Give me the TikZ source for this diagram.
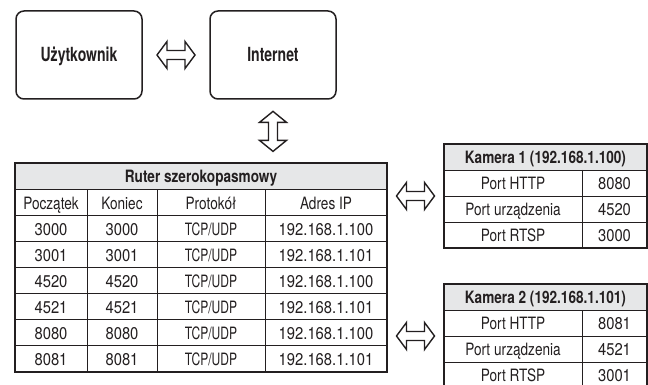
\documentclass[tikz,border=0pt]{standalone}
\usepackage{fontspec}
\setmainfont{TeX Gyre Heros}
\newfontfamily\tabfont[FakeStretch=0.8]{TeX Gyre Heros}
\newfontfamily\capfont[FakeStretch=0.71]{TeX Gyre Heros}
\newfontfamily\numfont[FakeStretch=0.87]{TeX Gyre Heros}
\newfontfamily\boxfont[FakeStretch=0.72]{TeX Gyre Heros}
\usetikzlibrary{calc}
\definecolor{ink}{HTML}{231F20}
\definecolor{hdr}{HTML}{E6E7E8}
\tikzset{
  box/.style={draw=ink, line width=1.5pt, rounded corners=8pt, minimum width=126pt,
    minimum height=88pt, inner sep=0pt, text=ink, text height=14pt, text depth=0pt,
    font=\boxfont\bfseries\fontsize{19.5}{22}\selectfont},
  tblarea/.style={inner sep=0pt, outer sep=0pt},
  outer/.style={draw=ink, line width=1.5pt},
  gridline/.style={draw=ink, line width=0.8pt},
  cell/.style={inner sep=0pt, text=ink, text height=12.2pt, text depth=0pt, anchor=center, yshift=-0.8pt},
  txt/.style={cell, font=\tabfont\fontsize{17}{19}\selectfont},
  num/.style={cell, font=\numfont\fontsize{17}{19}\selectfont},
  caps/.style={cell, font=\capfont\fontsize{17}{19}\selectfont},
  head/.style={cell, font=\tabfont\bfseries\fontsize{17}{19}\selectfont},
  harrow/.style={draw=ink, line width=1.4pt, line join=miter, fill=white},
  harr/.pic={\draw[harrow] (-19,0) -- (-9,-13.5) -- (-9,-4.5) -- (9,-4.5) -- (9,-13.5) -- (19,0)
     -- (9,13.5) -- (9,4.5) -- (-9,4.5) -- (-9,13.5) -- cycle;},
  varr/.pic={\draw[harrow] (0,-20) -- (13.5,-9) -- (4.5,-9) -- (4.5,9) -- (13.5,9) -- (0,20)
     -- (-13.5,9) -- (-4.5,9) -- (-4.5,-9) -- (-13.5,-9) -- cycle;}
}
\begin{document}
\begin{tikzpicture}[x=1pt,y=-1pt]
\useasboundingbox (0,0) rectangle (648,385);
\clip (0,0) rectangle (648,385);
\fill[white] (0,0) rectangle (648,385);

% top boxes
\node[box] (user) at (79,55) {Użytkownik};
\node[box] (inet) at (273,55) {Internet};

% router table
\node[tblarea, minimum width=372pt, minimum height=209pt] (router) at (201,267.5) {};
\fill[hdr] (router.north west) rectangle ($(router.north east)+(0,26.125)$);
\foreach \k in {1,...,7}
  \draw[gridline] ($(router.north west)+(0,26.125*\k)$) -- ($(router.north east)+(0,26.125*\k)$);
\foreach \xx in {87,157,265}
  \draw[gridline] (\xx,189.125) -- (\xx,372);
\draw[outer] (router.north west) rectangle (router.south east);
\node[head] (rh) at (201,176.06) {Ruter szerokopasmowy};
\node[txt] (rc1) at (51,202.19) {Początek};
\node[txt] (rc2) at (122,202.19) {Koniec};
\node[txt] (rc3) at (211,202.19) {Protokół};
\node[txt] (rc4) at (326,202.19) {Adres IP};
\foreach \s/\e/\ip [count=\i from 2] in {3000/3000/100,3001/3001/101,4520/4520/100,4521/4521/101,8080/8080/100,8081/8081/101} {
  \node[num] (r\i a) at (51,{163+26.125*(\i+0.5)}) {\s};
  \node[num] (r\i b) at (122,{163+26.125*(\i+0.5)}) {\e};
  \node[caps] (r\i c) at (211,{163+26.125*(\i+0.5)}) {TCP/UDP};
  \node[num] (r\i d) at (326,{163+26.125*(\i+0.5)}) {192.168.1.\ip};
}

% camera 1
\node[tblarea, minimum width=203pt, minimum height=104pt] (cam1) at (545.5,196) {};
\fill[hdr] (cam1.north west) rectangle ($(cam1.north east)+(0,26)$);
\foreach \k in {1,2,3}
  \draw[gridline] ($(cam1.north west)+(0,26*\k)$) -- ($(cam1.north east)+(0,26*\k)$);
\draw[gridline] (582,170) -- (582,248);
\draw[outer] (cam1.north west) rectangle (cam1.south east);
\node[head] (c1h) at (545.5,157) {Kamera 1 (192.168.1.100)};
\node[txt] (c1a) at (513,183) {Port HTTP};
\node[num] (c1b) at (614.5,183) {8080};
\node[txt] (c1c) at (513,209) {Port urządzenia};
\node[num] (c1d) at (614.5,209) {4520};
\node[txt] (c1e) at (513,235) {Port RTSP};
\node[num] (c1f) at (614.5,235) {3000};

% camera 2
\node[tblarea, minimum width=203pt, minimum height=104pt] (cam2) at (545.5,336) {};
\fill[hdr] (cam2.north west) rectangle ($(cam2.north east)+(0,26)$);
\foreach \k in {1,2,3}
  \draw[gridline] ($(cam2.north west)+(0,26*\k)$) -- ($(cam2.north east)+(0,26*\k)$);
\draw[gridline] (582,310) -- (582,388);
\draw[outer] (cam2.north west) rectangle (cam2.south east);
\node[head] (c2h) at (545.5,297) {Kamera 2 (192.168.1.101)};
\node[txt] (c2a) at (513,323) {Port HTTP};
\node[num] (c2b) at (614.5,323) {8081};
\node[txt] (c2c) at (513,349) {Port urządzenia};
\node[num] (c2d) at (614.5,349) {4521};
\node[txt] (c2e) at (513,375) {Port RTSP};
\node[num] (c2f) at (614.5,375) {3001};

% arrows
\coordinate (a1) at ($(user.east)!.5!(inet.west)$);
\coordinate (a2) at ($(inet.south)!.5!(router.north -| inet.south)$);
\coordinate (a3) at ($(router.east |- cam1.west)!.5!(cam1.west)$);
\coordinate (a4) at ($(router.east |- cam2.west)!.5!(cam2.west)$);
\pic at (a1) {harr};
\pic at (a2) {varr};
\pic at (a3) {harr};
\pic at (a4) {harr};
\end{tikzpicture}
\end{document}
